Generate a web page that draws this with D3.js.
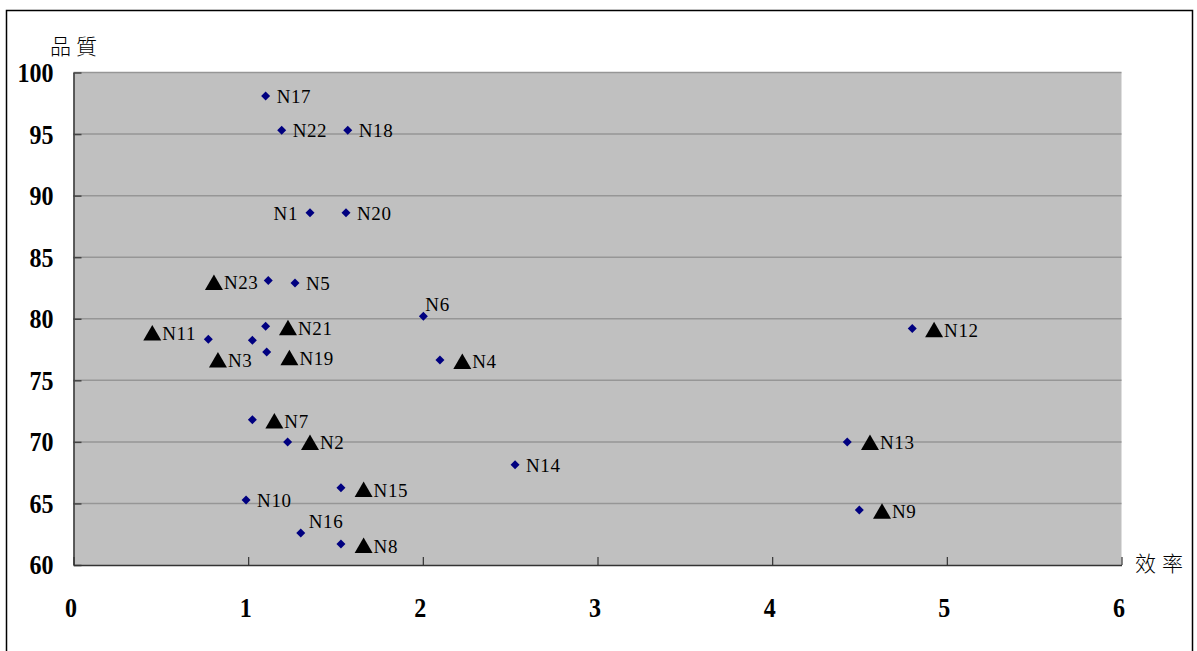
<!DOCTYPE html>
<html>
<head>
<meta charset="utf-8">
<script src="https://cdn.jsdelivr.net/npm/d3@7"></script>
<style>
  html, body { margin: 0; padding: 0; background: #fff; }
  svg { display: block; }
</style>
</head>
<body>
<svg id="chart" width="1197" height="651"></svg>
<script>
// ---- data ----
const diamondX = [1.100, 1.192, 1.570, 1.354, 1.560, 1.115, 1.268, 2.003, 0.772, 1.024, 1.100, 1.106, 2.098, 1.024, 1.226, 2.528, 1.531, 0.988, 1.301, 1.531, 4.802, 4.430, 4.499];
const diamondY = [98.1, 95.3, 95.3, 88.6, 88.6, 83.1, 82.9, 80.2, 78.33, 78.25, 79.4, 77.3, 76.65, 71.8, 70.0, 68.15, 66.28, 65.28, 62.6, 61.7, 79.2, 70.0, 64.47];
const diamondLabels = ["N17", "N22", "N18", "N1", "N20", "", "N5", "N6", "", "", "", "", "", "", "", "N14", "", "N10", "N16", "", "", "", ""];

const triangleX = [0.804, 0.451, 1.228, 0.827, 1.236, 2.226, 1.150, 1.354, 1.661, 1.661, 4.927, 4.560, 4.629];
const triangleY = [82.95, 78.85, 79.27, 76.65, 76.83, 76.53, 71.7, 69.95, 66.13, 61.58, 79.11, 69.95, 64.37];
const triangleLabels = ["N23", "N11", "N21", "N3", "N19", "N4", "N7", "N2", "N15", "N8", "N12", "N13", "N9"];

const xTicks = [0, 1, 2, 3, 4, 5, 6];
const yTicks = [60, 65, 70, 75, 80, 85, 90, 95, 100];
const xTitle = "效率";
const yTitle = "品質";

// ---- drawing ----
const svg = d3.select("#chart");
const plot = { left: 73.5, right: 1121.5, top: 72.5, bottom: 565 };
const x = d3.scaleLinear().domain([0, 6]).range([plot.left, plot.right]);
const y = d3.scaleLinear().domain([60, 100]).range([plot.bottom, plot.top]);

// outer frame
svg.append("rect")
  .attr("x", 6.5).attr("y", 10.5)
  .attr("width", 1186).attr("height", 660)
  .attr("fill", "#fff").attr("stroke", "#000").attr("stroke-width", 1.5);

// plot background
svg.append("rect")
  .attr("x", plot.left).attr("y", plot.top)
  .attr("width", plot.right - plot.left).attr("height", plot.bottom - plot.top)
  .attr("fill", "#c0c0c0");

// gridlines
svg.append("g").selectAll("line")
  .data(yTicks.filter(d => d > 60))
  .join("line")
  .attr("x1", plot.left).attr("x2", plot.right)
  .attr("y1", d => y(d)).attr("y2", d => y(d))
  .attr("stroke", "#969696").attr("stroke-width", 1.5);

const tickFont = "'Liberation Serif', 'Times New Roman', serif";
const fmt = d3.format("d");

// y axis
const gy = svg.append("g")
  .attr("transform", `translate(${plot.left},0)`)
  .call(d3.axisLeft(y).tickValues(yTicks).tickFormat(fmt).tickSize(-8).tickPadding(20).tickSizeOuter(0));
gy.select(".domain").attr("stroke", "#333").attr("stroke-width", 1.5);
gy.selectAll(".tick line").attr("stroke", "#444").attr("stroke-width", 1.5);
gy.selectAll(".tick text")
  .attr("font-family", tickFont).attr("font-weight", "bold").attr("font-size", 28)
  .attr("fill", "#000")
  .attr("textLength", d => fmt(d).length * 12)
  .attr("lengthAdjust", "spacingAndGlyphs");

// x axis
const gx = svg.append("g")
  .attr("transform", `translate(0,${plot.bottom})`)
  .call(d3.axisBottom(x).tickValues(xTicks).tickFormat(fmt).tickSize(-8).tickPadding(52).tickSizeOuter(0));
gx.select(".domain").attr("stroke", "#333").attr("stroke-width", 1.5);
gx.selectAll(".tick line").attr("stroke", "#333").attr("stroke-width", 1.2);
gx.selectAll(".tick text")
  .attr("font-family", tickFont).attr("font-weight", "bold").attr("font-size", 28)
  .attr("fill", "#000")
  .attr("dy", 0)
  .attr("dx", -3)
  .attr("textLength", d => fmt(d).length * 12)
  .attr("lengthAdjust", "spacingAndGlyphs");

// axis titles
const cjkFont = "'Noto Sans CJK TC', 'Noto Sans CJK SC', sans-serif";
svg.append("text")
  .attr("x", 50).attr("y", 54)
  .attr("font-family", cjkFont).attr("font-size", 21).attr("font-weight", 300)
  .attr("letter-spacing", 5)
  .text(yTitle);
svg.append("text")
  .attr("x", 1135).attr("y", 571)
  .attr("font-family", cjkFont).attr("font-size", 21).attr("font-weight", 300)
  .attr("letter-spacing", 6)
  .text(xTitle);

const labelFont = "'Liberation Serif', 'Times New Roman', serif";

// diamonds
const diamonds = diamondX.map((d, i) => ({ x: d, y: diamondY[i], label: diamondLabels[i] }));
const dg = svg.append("g");
dg.selectAll("path")
  .data(diamonds)
  .join("path")
  .attr("transform", d => `translate(${x(d.x)},${y(d.y)})`)
  .attr("d", "M0,-4.5L4.5,0L0,4.5L-4.5,0Z")
  .attr("fill", "#000080");

const leftLabels = new Set(["N1"]);
const aboveLabels = new Set(["N6", "N16"]);
dg.selectAll("text")
  .data(diamonds.filter(d => d.label))
  .join("text")
  .attr("font-family", labelFont).attr("font-size", 19).attr("fill", "#000")
  .attr("letter-spacing", 0.6)
  .attr("x", d => leftLabels.has(d.label) ? x(d.x) - 12 : aboveLabels.has(d.label) ? x(d.x) + (d.label === "N6" ? 2 : 8) : x(d.x) + 11)
  .attr("y", d => aboveLabels.has(d.label) ? y(d.y) - 5 : y(d.y) + 7)
  .attr("text-anchor", d => leftLabels.has(d.label) ? "end" : "start")
  .text(d => d.label);

// triangles
const triangles = triangleX.map((d, i) => ({ x: d, y: triangleY[i], label: triangleLabels[i] }));
const tg = svg.append("g");
tg.selectAll("path")
  .data(triangles)
  .join("path")
  .attr("transform", d => `translate(${x(d.x)},${y(d.y)})`)
  .attr("d", "M0,-8L9,7.5L-9,7.5Z")
  .attr("fill", "#000");
tg.selectAll("text")
  .data(triangles)
  .join("text")
  .attr("font-family", labelFont).attr("font-size", 19).attr("fill", "#000")
  .attr("letter-spacing", 0.6)
  .attr("x", d => x(d.x) + 10)
  .attr("y", d => y(d.y) + 7)
  .text(d => d.label);
</script>
</body>
</html>
